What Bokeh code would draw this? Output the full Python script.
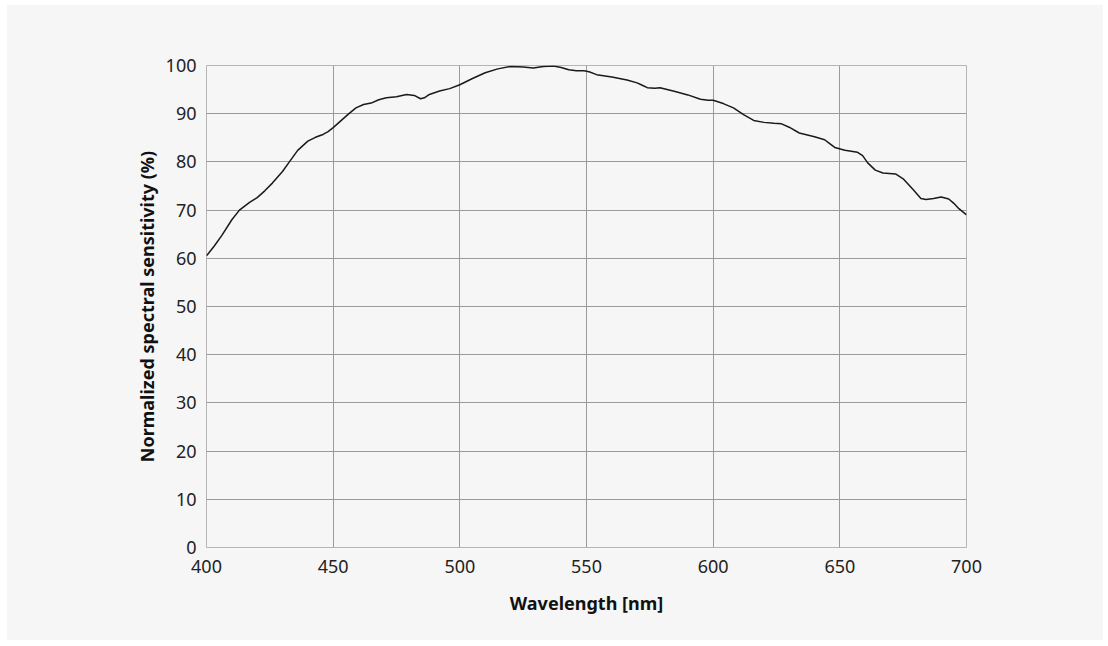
from bokeh.plotting import figure
from bokeh.embed import file_html
from bokeh.resources import INLINE
from bokeh.models import FixedTicker, Range1d

wavelength = [400, 403, 406, 410, 413, 417, 420, 423, 426, 430, 433, 436, 440, 443, 446, 448, 450, 453,
              456, 459, 462, 465, 468, 471, 475, 479, 482, 484.5, 486, 488, 492, 496, 500, 505, 510, 515,
              520, 525, 529, 533, 537, 540, 543, 546, 549, 551, 554, 560, 566, 570, 572, 574, 577, 579,
              585, 590, 595, 598, 600, 604, 608, 612, 616, 620, 624, 627, 630, 634, 640, 644, 646, 648,
              652, 657, 659, 661, 664, 667, 672, 675, 679, 682, 684, 687, 690, 693, 695, 697, 700]
sensitivity = [60.5, 62.5, 64.7, 68.0, 70.0, 71.6, 72.6, 74.0, 75.6, 78.0, 80.2, 82.4, 84.3, 85.1, 85.7, 86.3,
               87.1, 88.5, 89.9, 91.2, 91.9, 92.2, 92.9, 93.3, 93.5, 94.0, 93.8, 93.1, 93.3, 94.0, 94.7,
               95.2, 96.0, 97.3, 98.5, 99.3, 99.8, 99.7, 99.5, 99.8, 99.9, 99.6, 99.1, 98.9, 98.9, 98.7,
               98.1, 97.6, 97.0, 96.4, 95.9, 95.4, 95.3, 95.4, 94.6, 93.9, 93.0, 92.8, 92.8, 92.1, 91.2,
               89.8, 88.6, 88.2, 88.0, 87.9, 87.2, 86.0, 85.2, 84.6, 83.8, 83.0, 82.4, 82.0, 81.3, 79.8,
               78.3, 77.7, 77.5, 76.5, 74.2, 72.4, 72.2, 72.4, 72.7, 72.3, 71.4, 70.3, 69.0]
x_ticks = [400, 450, 500, 550, 600, 650, 700]
y_ticks = [0, 10, 20, 30, 40, 50, 60, 70, 80, 90, 100]

BG = "#f6f6f6"
FONT = "Noto Sans"

p = figure(width=1097, height=636, output_backend="svg", toolbar_location=None,
           x_range=Range1d(400, 700), y_range=Range1d(0, 100),
           min_border_left=200, min_border_top=61, min_border_right=137, min_border_bottom=93,
           background_fill_color=BG, border_fill_color=BG,
           margin=(4, 5, 6, 6))

p.line(wavelength, sensitivity, line_color="#1a1a1a", line_width=1.5, line_join="round")

p.outline_line_color = "#b5b5b5"
p.outline_line_width = 1
p.xgrid.grid_line_color = "#9a9a9a"
p.ygrid.grid_line_color = "#9a9a9a"
p.xgrid.grid_line_width = 1
p.ygrid.grid_line_width = 1

p.xaxis.ticker = FixedTicker(ticks=x_ticks)
p.yaxis.ticker = FixedTicker(ticks=y_ticks)
for ax in (p.xaxis[0], p.yaxis[0]):
    ax.axis_line_color = None
    ax.major_tick_line_color = None
    ax.minor_tick_line_color = None
    ax.major_tick_in = 0
    ax.major_tick_out = 0
    ax.minor_tick_out = 0
    ax.major_label_text_font = FONT
    ax.major_label_text_font_size = "18px"
    ax.major_label_text_color = "#222222"
    ax.axis_label_text_font = FONT
    ax.axis_label_text_font_size = "18px"
    ax.axis_label_text_font_style = "bold"
    ax.axis_label_text_color = "#111111"

p.xaxis.axis_label = "Wavelength [nm]"
p.yaxis.axis_label = "Normalized spectral sensitivity (%)"
p.xaxis.major_label_standoff = 12
p.yaxis.major_label_standoff = 10
p.xaxis.axis_label_standoff = 15
p.yaxis.axis_label_standoff = 4

open("out.html", "w").write(file_html(p, INLINE))
